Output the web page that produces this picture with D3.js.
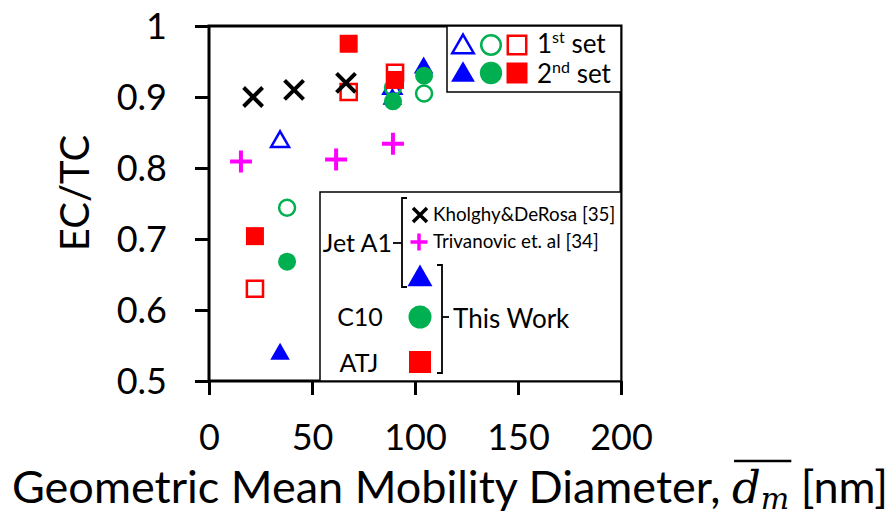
<!DOCTYPE html>
<html>
<head>
<meta charset="utf-8">
<script src="https://cdn.jsdelivr.net/npm/d3@7"></script>
<style>
  html, body { margin: 0; padding: 0; background: #fff; }
  svg { display: block; }
  text { font-family: Lato, "Open Sans", sans-serif; fill: #000; }
</style>
</head>
<body>
<div id="chart"></div>
<script>
// ---------------- data ----------------
const xTicks = [0, 50, 100, 150, 200];
const yTicks = [0.5, 0.6, 0.7, 0.8, 0.9, 1];

// Jet A1 literature
const kholghyX = [21.4, 41.3, 66.5];
const kholghyY = [0.900, 0.910, 0.920];
const trivanovicX = [15.5, 61.7, 89.3];
const trivanovicY = [0.809, 0.812, 0.834];

// This work - Jet A1 (triangles)
const jetSet1X = [34.5, 89.0];
const jetSet1Y = [0.837, 0.912];
const jetSet2X = [34.5, 89.0, 104.2];
const jetSet2Y = [0.538, 0.897, 0.941];

// This work - C10 (circles)
const c10Set1X = [37.9, 89.3, 104.4];
const c10Set1Y = [0.744, 0.913, 0.905];
const c10Set2X = [37.9, 89.3, 104.4];
const c10Set2Y = [0.668, 0.894, 0.930];

// This work - ATJ (squares)
const atjSet1X = [22.3, 67.8, 90.3];
const atjSet1Y = [0.630, 0.907, 0.934];
const atjSet2X = [22.3, 67.8, 90.3];
const atjSet2Y = [0.704, 0.975, 0.924];

const BLUE = "#0000FF", GREEN = "#00B050", RED = "#FF0000", MAGENTA = "#FF00FF";

// ---------------- layout ----------------
const W = 894, H = 515;
const svg = d3.select("#chart").append("svg").attr("width", W).attr("height", H);

const x = d3.scaleLinear().domain([0, 200]).range([209, 621]);
const y = d3.scaleLinear().domain([0.5, 1]).range([381, 26]);

// custom symbols
const symX = { draw(ctx, size) { const r = Math.sqrt(size) / 2; ctx.moveTo(-r, -r); ctx.lineTo(r, r); ctx.moveTo(-r, r); ctx.lineTo(r, -r); } };
const symPlus = { draw(ctx, size) { const r = Math.sqrt(size) / 2; ctx.moveTo(-r, 0); ctx.lineTo(r, 0); ctx.moveTo(0, -r); ctx.lineTo(0, r); } };

function zip(xs, ys) { return xs.map((v, i) => [v, ys[i]]); }

function drawSeries(g, xs, ys, type, size, style) {
  g.selectAll(null).data(zip(xs, ys)).enter().append("path")
    .attr("transform", d => `translate(${x(d[0])},${y(d[1])})`)
    .attr("d", d3.symbol().type(type).size(size))
    .attr("fill", style.fill || "none")
    .attr("stroke", style.stroke || "none")
    .attr("stroke-width", style.sw || 0)
    .attr("stroke-linecap", "butt");
}

// ---------------- axes ----------------
const yAxis = d3.axisLeft(y).tickValues(yTicks).tickSize(14).tickSizeOuter(0)
  .tickFormat(d => d === 1 ? "1" : d3.format(".1f")(d));
const gy = svg.append("g").attr("transform", "translate(209,0)").call(yAxis);
gy.select(".domain").remove();
gy.selectAll(".tick line").attr("stroke", "#000").attr("stroke-width", 3);
gy.selectAll(".tick text").attr("x", -42).attr("dy", "0.36em")
  .style("font-size", "36px").style("font-family", "Lato, sans-serif");

const xAxis = d3.axisBottom(x).tickValues(xTicks).tickSize(14).tickSizeOuter(0);
const gx = svg.append("g").attr("transform", "translate(0,381)").call(xAxis);
gx.select(".domain").remove();
gx.selectAll(".tick line").attr("stroke", "#000").attr("stroke-width", 3);
gx.selectAll(".tick text").attr("y", 69).attr("dy", null)
  .style("font-size", "36px").style("font-family", "Lato, sans-serif");

// ---------------- markers ----------------
const gm = svg.append("g");
drawSeries(gm, jetSet1X, jetSet1Y, d3.symbolTriangle, 140, { stroke: BLUE, sw: 2.5 });
drawSeries(gm, jetSet2X, jetSet2Y, d3.symbolTriangle, 165, { fill: BLUE });
drawSeries(gm, c10Set1X, c10Set1Y, d3.symbolCircle, 200, { stroke: GREEN, sw: 2.5 });
drawSeries(gm, c10Set2X, c10Set2Y, d3.symbolCircle, 255, { fill: GREEN });
drawSeries(gm, atjSet1X, atjSet1Y, d3.symbolSquare, 260, { stroke: RED, sw: 2.5 });
drawSeries(gm, atjSet2X, atjSet2Y, d3.symbolSquare, 324, { fill: RED });
drawSeries(gm, kholghyX, kholghyY, symX, 361, { stroke: "#000", sw: 4 });
drawSeries(gm, trivanovicX, trivanovicY, symPlus, 484, { stroke: MAGENTA, sw: 4 });

// ---------------- frame ----------------
svg.append("rect").attr("x", 209).attr("y", 26).attr("width", 412).attr("height", 355)
  .attr("fill", "none").attr("stroke", "#000").attr("stroke-width", 3);

// ---------------- legend 1 (sets) ----------------
const l1 = svg.append("g");
l1.append("rect").attr("x", 447).attr("y", 26).attr("width", 174).attr("height", 66)
  .attr("fill", "#fff").attr("stroke", "#000").attr("stroke-width", 1.5);
const setRows = [
  { yy: 45, filled: false, label: "1", sup: "st", base: 53 },
  { yy: 73, filled: true, label: "2", sup: "nd", base: 83 }
];
setRows.forEach(r => {
  const specs = [
    { cx: 463, type: d3.symbolTriangle, c: BLUE, sOpen: 200, sFill: 245, dy: 2 },
    { cx: 491, type: d3.symbolCircle, c: GREEN, sOpen: 300, sFill: 390, dy: 0 },
    { cx: 517, type: d3.symbolSquare, c: RED, sOpen: 340, sFill: 441, dy: 0 }
  ];
  specs.forEach(s => {
    l1.append("path").attr("transform", `translate(${s.cx},${r.yy + s.dy})`)
      .attr("d", d3.symbol().type(s.type).size(r.filled ? s.sFill : s.sOpen))
      .attr("fill", r.filled ? s.c : "none")
      .attr("stroke", r.filled ? "none" : s.c)
      .attr("stroke-width", r.filled ? 0 : 2.5);
  });
  const t = l1.append("text").attr("x", 537).attr("y", r.base).style("font-size", "26px");
  t.append("tspan").text(r.label);
  t.append("tspan").attr("dy", -10).style("font-size", "16px").text(r.sup);
  t.append("tspan").attr("dy", 10).text(" set");
});

// ---------------- legend 2 (fuels) ----------------
const l2 = svg.append("g");
l2.append("rect").attr("x", 320).attr("y", 192).attr("width", 301).attr("height", 189)
  .attr("fill", "#fff").attr("stroke", "#000").attr("stroke-width", 1.5);
// markers
l2.append("path").attr("transform", "translate(420,215)")
  .attr("d", d3.symbol().type(symX).size(196)).attr("stroke", "#000").attr("stroke-width", 3.5).attr("fill", "none");
l2.append("path").attr("transform", "translate(419,242)")
  .attr("d", d3.symbol().type(symPlus).size(289)).attr("stroke", MAGENTA).attr("stroke-width", 3.5).attr("fill", "none");
l2.append("path").attr("transform", "translate(420,279)")
  .attr("d", d3.symbol().type(d3.symbolTriangle).size(270)).attr("fill", BLUE);
l2.append("path").attr("transform", "translate(420,317)")
  .attr("d", d3.symbol().type(d3.symbolCircle).size(415)).attr("fill", GREEN);
l2.append("path").attr("transform", "translate(420,362)")
  .attr("d", d3.symbol().type(d3.symbolSquare).size(484)).attr("fill", RED);
// texts
l2.append("text").attr("x", 433).attr("y", 221).style("font-size", "18.8px").text("Kholghy&DeRosa [35]");
l2.append("text").attr("x", 433).attr("y", 248).style("font-size", "18.8px").text("Trivanovic et. al [34]");
l2.append("text").attr("x", 392).attr("y", 252).attr("text-anchor", "end").style("font-size", "25px").text("Jet A1");
l2.append("text").attr("x", 360).attr("y", 326).attr("text-anchor", "middle").style("font-size", "25px").text("C10");
l2.append("text").attr("x", 359).attr("y", 372).attr("text-anchor", "middle").style("font-size", "25px").text("ATJ");
l2.append("text").attr("x", 453).attr("y", 328).style("font-size", "26px").text("This Work");
// brackets
const br = l2.append("g").attr("fill", "none").attr("stroke", "#000").attr("stroke-width", 1.8);
br.append("path").attr("d", "M407,198 H402 V287 H407");
br.append("path").attr("d", "M393,243 H402");
br.append("path").attr("d", "M437,265 H442 V373 H437");
br.append("path").attr("d", "M442,317 H449");

// ---------------- axis titles ----------------
svg.append("text").attr("transform", "translate(89,193) rotate(-90)")
  .attr("text-anchor", "middle").style("font-size", "40px").text("EC/TC");

const xt = svg.append("text").attr("x", 12).attr("y", 503).style("font-size", "45px");
xt.append("tspan").text("Geometric Mean Mobility Diameter, ");
xt.append("tspan").style("font-family", "'DejaVu Serif', serif").style("font-style", "italic").text("d");
xt.append("tspan").attr("dy", 6).style("font-family", "'DejaVu Serif', serif").style("font-style", "italic").style("font-size", "30px").text("m");
xt.append("tspan").attr("dy", -6).text(" [nm]");
// overline over d_m, positioned from the rendered glyph extents
const n = xt.node();
const s0 = n.getStartPositionOfChar(34);
const e1 = n.getEndPositionOfChar(35);
svg.append("line").attr("x1", s0.x + 2).attr("x2", e1.x + 2).attr("y1", 461).attr("y2", 461)
  .attr("stroke", "#000").attr("stroke-width", 2.5);
</script>
</body>
</html>
